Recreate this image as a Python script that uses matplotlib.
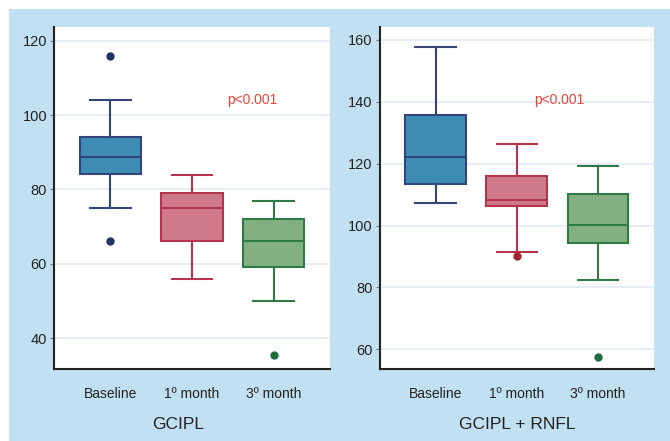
import matplotlib
matplotlib.use('Agg')
import matplotlib.pyplot as plt
from matplotlib.patches import Rectangle

plt.rcParams['font.family'] = ['Liberation Sans', 'DejaVu Sans']

groups = ['Baseline', '1º month', '3º month']

# GCIPL panel: whisker low, Q1, median, Q3, whisker high
gcipl_whislo = [75, 56, 50]
gcipl_q1 = [84.2, 66.2, 59.2]
gcipl_med = [88.7, 75, 66.2]
gcipl_q3 = [94.1, 79, 72]
gcipl_whishi = [104, 84, 77]
gcipl_fliers = [[116, 66], [], [35.5]]

# GCIPL + RNFL panel
rnfl_whislo = [107.3, 91.4, 82.4]
rnfl_q1 = [113.4, 106.4, 94.5]
rnfl_med = [122.3, 108.3, 100.2]
rnfl_q3 = [135.8, 116, 110.1]
rnfl_whishi = [157.8, 126.2, 119.3]
rnfl_fliers = [[], [90.3], [57.5]]

fill_colors = ['#3d8db5', '#cf7a8b', '#82b083']
edge_colors = ['#34457a', '#b5364a', '#2f7b45']
flier_colors = ['#26306a', '#a0262e', '#1f6e3a']

text_color = '#222222'
grid_color = '#e0ebf6'
bg_blue = '#c1e0f1'


def make_stats(lo, q1, med, q3, hi, fliers):
    stats = []
    for i in range(len(groups)):
        stats.append({'whislo': lo[i], 'q1': q1[i], 'med': med[i],
                      'q3': q3[i], 'whishi': hi[i], 'fliers': fliers[i],
                      'label': groups[i]})
    return stats


def draw_panel(ax, stats, ylim, yticks, xlabel, p_xy):
    ax.set_axisbelow(True)
    ax.grid(True, axis='y', color=grid_color, linewidth=1.2)
    positions = [1, 2, 3]
    for i, st in enumerate(stats):
        ax.bxp([st], positions=[positions[i]], widths=0.75, patch_artist=True,
               boxprops=dict(facecolor=fill_colors[i], edgecolor=edge_colors[i], linewidth=1.5),
               medianprops=dict(color=edge_colors[i], linewidth=1.5),
               whiskerprops=dict(color=edge_colors[i], linewidth=1.5),
               capprops=dict(color=edge_colors[i], linewidth=1.5),
               capwidths=0.5,
               flierprops=dict(marker='o', markerfacecolor=flier_colors[i],
                               markeredgecolor=flier_colors[i], markersize=5))
    ax.set_xlim(0.31, 3.69)
    ax.set_ylim(*ylim)
    ax.set_yticks(yticks)
    ax.set_xticks(positions)
    ax.set_xticklabels(groups)
    ax.tick_params(axis='x', length=0, pad=13, labelsize=10, labelcolor=text_color)
    ax.tick_params(axis='y', length=3, width=0.8, color='#777777', pad=2,
                   labelsize=10.5, labelcolor=text_color)
    for side in ['top', 'right']:
        ax.spines[side].set_visible(False)
    for side in ['left', 'bottom']:
        ax.spines[side].set_color('#222222')
        ax.spines[side].set_linewidth(1.5)
    ax.set_xlabel(xlabel, fontsize=12.5, color=text_color, labelpad=10)
    ax.text(p_xy[0], p_xy[1], 'p<0.001', color='#e8453c', fontsize=10,
            ha='center', va='center')


fig = plt.figure(figsize=(6.7, 4.41), dpi=100)
fig.patch.set_facecolor('white')
fig.patches.append(Rectangle((9 / 670, 0), 1 - 9 / 670, 1 - 9 / 441,
                             transform=fig.transFigure, facecolor=bg_blue,
                             edgecolor='none', zorder=-10))

ax1 = fig.add_axes([0.0806, 0.1633, 0.412, 0.7755])
ax2 = fig.add_axes([0.5667, 0.1633, 0.4094, 0.7755])

draw_panel(ax1, make_stats(gcipl_whislo, gcipl_q1, gcipl_med, gcipl_q3, gcipl_whishi, gcipl_fliers),
           (31.7, 123.7), [40, 60, 80, 100, 120], 'GCIPL', (2.74, 104))
ax1.xaxis.set_label_coords(0.45, -0.14)
draw_panel(ax2, make_stats(rnfl_whislo, rnfl_q1, rnfl_med, rnfl_q3, rnfl_whishi, rnfl_fliers),
           (53.6, 164.2), [60, 80, 100, 120, 140, 160], 'GCIPL + RNFL', (2.52, 140.6))
ax2.xaxis.set_label_coords(0.5, -0.14)

fig.savefig('out.png', dpi=100)
